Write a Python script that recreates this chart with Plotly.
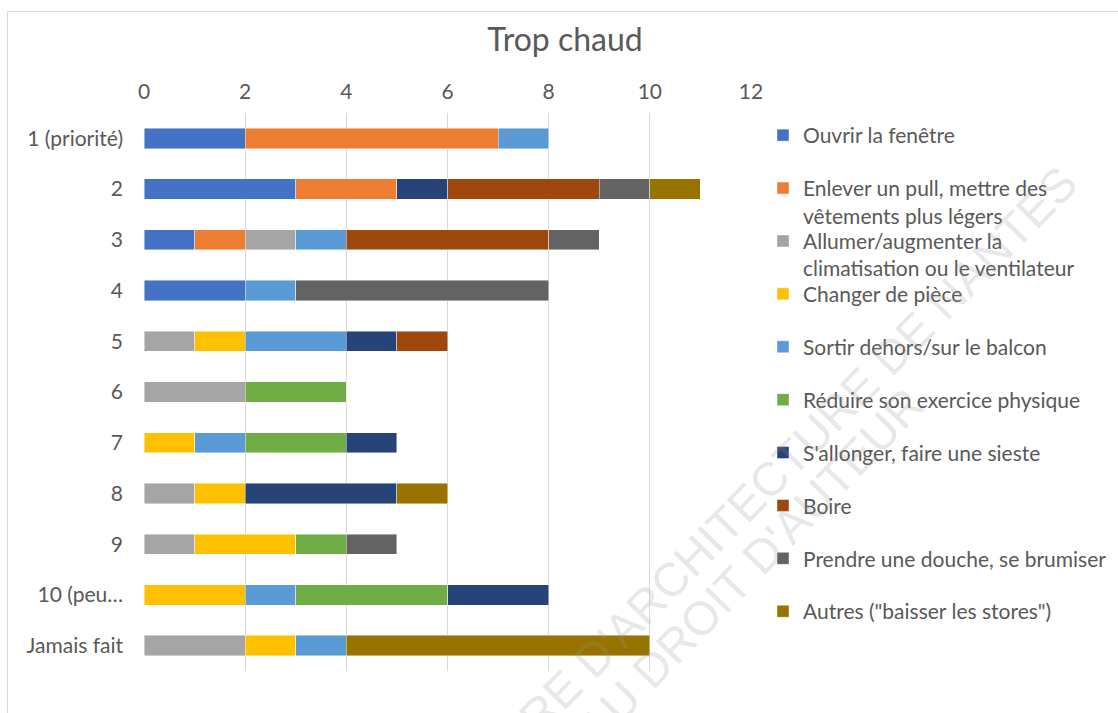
import plotly.graph_objects as go

# Rank given to each action when too hot
categories = ["1 (priorité)", "2", "3", "4", "5", "6", "7", "8", "9", "10 (peu…", "Jamais fait"]

series_names = [
    "Ouvrir la fenêtre",
    "Enlever un pull, mettre des<br>vêtements plus légers",
    "Allumer/augmenter la<br>climatisation ou le ventilateur",
    "Changer de pièce",
    "Sortir dehors/sur le balcon",
    "Réduire son exercice physique",
    "S'allonger, faire une sieste",
    "Boire",
    "Prendre une douche, se brumiser",
    "Autres (\"baisser les stores\")",
]

ouvrir = [2, 3, 1, 2, 0, 0, 0, 0, 0, 0, 0]
enlever = [5, 2, 1, 0, 0, 0, 0, 0, 0, 0, 0]
allumer = [0, 0, 1, 0, 1, 2, 0, 1, 1, 0, 2]
changer = [0, 0, 0, 0, 1, 0, 1, 1, 2, 2, 1]
sortir = [1, 0, 1, 1, 2, 0, 1, 0, 0, 1, 1]
reduire = [0, 0, 0, 0, 0, 2, 2, 0, 1, 3, 0]
allonger = [0, 1, 0, 0, 1, 0, 1, 3, 0, 2, 0]
boire = [0, 3, 4, 0, 1, 0, 0, 0, 0, 0, 0]
douche = [0, 1, 1, 5, 0, 0, 0, 0, 1, 0, 0]
autres = [0, 1, 0, 0, 0, 0, 0, 1, 0, 0, 6]

x_ticks = [0, 2, 4, 6, 8, 10, 12]

series_values = [ouvrir, enlever, allumer, changer, sortir, reduire, allonger, boire, douche, autres]
colors = ["#4472C4", "#ED7D31", "#A5A5A5", "#FFC000", "#5B9BD5",
          "#70AD47", "#264478", "#9E480E", "#636363", "#997300"]

W, H = 1118, 713
L, R, T, B = 144, 367, 113, 42
PW, PH = W - L - R, H - T - B
FONT = "Lato"
TXT = "#595959"


def px_x(p):
    return (p - L) / PW


def px_y(p):
    return (H - B - p) / PH


fig = go.Figure()
legend_layouts = {}
for i, (name, vals, col) in enumerate(zip(series_names, series_values, colors)):
    key = "legend" if i == 0 else f"legend{i + 1}"
    fig.add_trace(go.Bar(
        y=categories,
        x=[v if v else None for v in vals],
        name=name,
        orientation="h",
        marker=dict(color=col, line=dict(color="rgba(255,255,255,0.55)", width=0.8)),
        legend=key,
    ))
    # one legend box per series, first lines evenly spaced
    centre = 135 + 52.9 * i
    legend_layouts[key] = dict(
        xref="container", yref="container",
        x=763 / W, y=1 - (centre - 20) / H,
        xanchor="left", yanchor="top",
        bgcolor="rgba(0,0,0,0)", borderwidth=0,
        font=dict(family=FONT, size=21, color=TXT),
        valign="top", itemwidth=30, tracegroupgap=0,
    )

fig.update_layout(
    width=W, height=H,
    margin=dict(l=L, r=R, t=T, b=B, autoexpand=False),
    barmode="stack", bargap=0.6,
    paper_bgcolor="white", plot_bgcolor="white",
    font=dict(family=FONT, size=21, color=TXT),
    title=dict(text="Trop chaud", font=dict(family=FONT, size=32, color=TXT),
               xref="container", yref="container",
               x=565 / W, y=1 - 40 / H, xanchor="center", yanchor="middle"),
    xaxis=dict(side="top", range=[0, 12], tickvals=x_ticks, showgrid=True,
               gridcolor="#d9d9d9", gridwidth=1.3, zeroline=False, showline=False,
               ticks="", ticklabelstandoff=9,
               tickfont=dict(family=FONT, size=21, color=TXT)),
    yaxis=dict(autorange="reversed", showgrid=False, zeroline=False, showline=False,
               ticks="", ticklabelstandoff=20,
               tickfont=dict(family=FONT, size=21, color=TXT)),
    showlegend=True,
    **legend_layouts,
)

# Chart frame
fig.add_shape(type="rect", xref="paper", yref="paper",
              x0=px_x(7.5), x1=px_x(1130), y0=px_y(730), y1=px_y(11.5),
              line=dict(color="#d9d9d9", width=1), fillcolor="rgba(0,0,0,0)", layer="below")

# Diagonal watermark
wm_font = dict(family="Liberation Sans", size=47, color="rgba(150,150,150,0.24)")
fig.add_annotation(text="RE D'ARCHITECTURE DE NANTES", xref="paper", yref="paper",
                   x=px_x(797), y=px_y(450), textangle=-45.5, showarrow=False,
                   xanchor="center", yanchor="middle", font=wm_font)
fig.add_annotation(text="AU DROIT D'AUTEUR", xref="paper", yref="paper",
                   x=px_x(750), y=px_y(566), textangle=-46, showarrow=False,
                   xanchor="center", yanchor="middle", font=wm_font)

fig.write_html("out.html")
